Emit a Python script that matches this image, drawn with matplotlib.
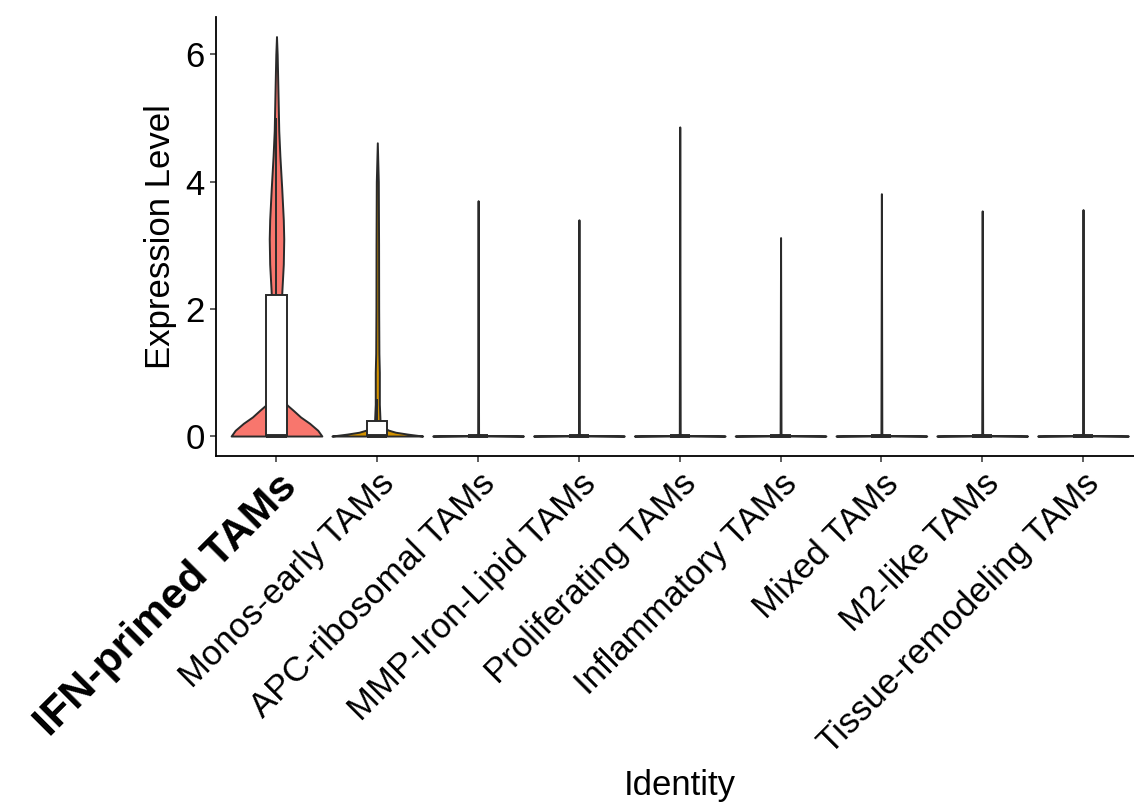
import numpy as np
import matplotlib
matplotlib.use("Agg")
import matplotlib.pyplot as plt
from matplotlib.patches import Rectangle

plt.rcParams['font.family'] = ['Liberation Sans', 'DejaVu Sans']

# ---------------- data ----------------
categories = ["IFN-primed TAMs", "Monos-early TAMs", "APC-ribosomal TAMs",
              "MMP-Iron-Lipid TAMs", "Proliferating TAMs", "Inflammatory TAMs",
              "Mixed TAMs", "M2-like TAMs", "Tissue-remodeling TAMs"]
fill_colors = ["#F8766D", "#D39200", "#93AA00", "#00BA38", "#00C19F",
               "#00B9E3", "#619CFF", "#DB72FB", "#FF61C3"]

# violin density profiles (y level, relative half-width; 1 = widest)
ifn_y = [0, 0.09, 0.2, 0.3, 0.41, 0.49, 0.7, 1.0, 1.5, 2.0, 2.3, 2.7, 3.1,
         3.4, 3.9, 4.4, 4.8, 5.5, 6.0, 6.28]
ifn_w = [1.0, 0.91, 0.73, 0.53, 0.36, 0.23, 0.13, 0.10, 0.09, 0.10, 0.12,
         0.15, 0.16, 0.15, 0.115, 0.075, 0.05, 0.03, 0.015, 0.0]
monos_y = [0, 0.03, 0.06, 0.094, 0.15, 0.24, 0.5, 1.0, 1.3, 2.0, 3.0, 4.0, 4.61]
monos_w = [1.0, 0.67, 0.40, 0.24, 0.11, 0.06, 0.045, 0.045, 0.035, 0.03,
           0.028, 0.022, 0.0]
# remaining clusters: nearly all cells at 0 with a thin tail up to the max
flat_max = [3.70, 3.40, 4.86, 3.12, 3.81, 3.54, 3.56]
flat_y = [0, 0.01, 0.03]
flat_w = [1.0, 0.06, 0.01]

# box statistics: q1, median, q3, whisker low, whisker high
box_q1 = [0, 0, 0, 0, 0, 0, 0, 0, 0]
box_med = [0, 0, 0, 0, 0, 0, 0, 0, 0]
box_q3 = [2.22, 0.23, 0, 0, 0, 0, 0, 0, 0]
box_wlo = [0, 0, 0, 0, 0, 0, 0, 0, 0]
box_whi = [5.0, 0.58, 0, 0, 0, 0, 0, 0, 0]

yticks = [0, 2, 4, 6]
xlabel = "Identity"
ylabel = "Expression Level"

# ---------------- plot ----------------
EDGE = "#2a2a2a"
W, H = 1134, 806
fig = plt.figure(figsize=(W / 100, H / 100), dpi=100)
ax = fig.add_axes([216 / W, (H - 456) / H, (1143.5 - 216) / W, (456 - 16.6) / H])

VW = 0.45   # max half-width of violin
BW = 0.10   # half-width of box

profiles = [(ifn_y, ifn_w), (monos_y, monos_w)]
for m in flat_max:
    profiles.append((flat_y + [m], flat_w + [0.0]))

for i, (ys, ws) in enumerate(profiles):
    ws = np.asarray(ws) * VW
    ax.fill_betweenx(ys, i - ws, i + ws, facecolor=fill_colors[i],
                     edgecolor=EDGE, linewidth=1.4, zorder=2)

for i in range(len(categories)):
    ax.plot([i, i], [box_q3[i], box_whi[i]], color=EDGE, lw=1.4, zorder=3,
            solid_capstyle='butt')
    ax.plot([i, i], [box_wlo[i], box_q1[i]], color=EDGE, lw=1.4, zorder=3,
            solid_capstyle='butt')
    ax.add_patch(Rectangle((i - BW, box_q1[i]), 2 * BW, box_q3[i] - box_q1[i],
                           facecolor="white", edgecolor=EDGE, lw=1.4, zorder=4))
    ax.plot([i - BW, i + BW], [box_med[i], box_med[i]], color=EDGE, lw=2.8,
            zorder=5, solid_capstyle='butt')

ax.set_xlim(-0.6, 8.6)
ax.set_ylim(-0.314, 6.594)
ax.set_yticks(yticks)
ax.set_yticklabels([str(t) for t in yticks], fontsize=25)
ax.set_xticks(range(len(categories)))
ax.set_xticklabels(categories, rotation=45, ha='right', va='top',
                   rotation_mode='anchor', fontsize=25)
lbl0 = ax.get_xticklabels()[0]
lbl0.set_fontweight('bold')
lbl0.set_fontsize(31)

for s in ['top', 'right']:
    ax.spines[s].set_visible(False)
for s in ['left', 'bottom']:
    ax.spines[s].set_linewidth(1.3)
    ax.spines[s].set_color('black')
ax.tick_params(axis='both', length=4, width=1.1, color='#333333', pad=4)

ax.set_xlabel(xlabel, fontsize=25, labelpad=6)
ax.set_ylabel(ylabel, fontsize=25, labelpad=6)

fig.savefig("out.png", dpi=100)
